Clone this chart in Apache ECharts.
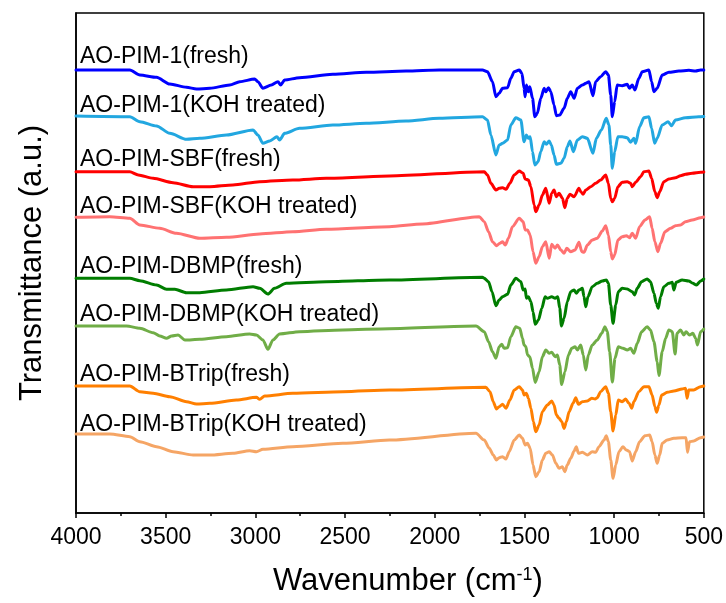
<!DOCTYPE html>
<html>
<head>
<meta charset="utf-8">
<script src="https://cdn.jsdelivr.net/npm/echarts@6/dist/echarts.min.js"></script>
<style>
html,body{margin:0;padding:0;background:#fff;}
#chart{width:726px;height:603px;}
</style>
</head>
<body>
<div id="chart"></div>
<script>
// Series names (labels drawn above each spectrum)
const seriesNames = [
  'AO-PIM-1(fresh)',
  'AO-PIM-1(KOH treated)',
  'AO-PIM-SBF(fresh)',
  'AO-PIM-SBF(KOH treated)',
  'AO-PIM-DBMP(fresh)',
  'AO-PIM-DBMP(KOH treated)',
  'AO-PIM-BTrip(fresh)',
  'AO-PIM-BTrip(KOH treated)'
];

// x-axis tick values (wavenumber, cm-1)
const xTicks = [4000, 3500, 3000, 2500, 2000, 1500, 1000, 500];

// Spectra: [wavenumber, transmittance (a.u., vertically offset)]
const pim1Fresh = [[4000,441],[3700,441],[3644,436],[3551,433.7],[3477,427],[3384,423.7],[3328,422],[3254,422.7],[3143,426],[3087,429.3],[3004,432],[2986,429.3],[2958,422.7],[2911,426],[2874,429.3],[2859,426],[2837,431],[2754,433.3],[2568,436.7],[2382,438.7],[2160,440],[1975,441],[1734,441],[1706,439.3],[1678,429.3],[1659,414.3],[1641,417.7],[1622,422.7],[1594,423.3],[1576,432.7],[1557,439.3],[1529,441],[1514,437.7],[1502,422.7],[1496,414.3],[1489,426],[1478,419.3],[1470,424.3],[1455,412.7],[1442,394.3],[1428,397.7],[1409,412.7],[1390,422.7],[1381,419.3],[1366,423.3],[1353,419.3],[1335,406],[1322,395.3],[1303,396],[1279,402.7],[1261,412.7],[1242,419.3],[1223,412.7],[1205,422.7],[1177,426],[1158,427.7],[1140,429.3],[1118,415.3],[1103,429.3],[1075,434.3],[1047,439.3],[1032,436],[1019,416],[1010,394.3],[997,409.3],[983,426],[955,425.3],[927,426.7],[914,422.7],[899,426],[884,421],[862,432.7],[843,439.3],[806,441],[791,429.3],[778,419.3],[760,422.7],[732,436],[695,438.7],[639,440],[583,440.7],[546,440],[518,441],[500,441]];

const pim1Koh = [[4000,395],[3700,394.3],[3644,389.3],[3551,385],[3477,377.7],[3384,371.7],[3310,372.7],[3161,376],[3013,381],[2986,376],[2958,367.7],[2920,370],[2880,374.3],[2865,371],[2837,377.7],[2754,382.7],[2568,386],[2382,387.7],[2160,390],[1975,392.7],[1734,394.3],[1706,391],[1687,376],[1659,356],[1641,366],[1622,367.7],[1594,371],[1576,386],[1548,393.3],[1520,391],[1502,369.3],[1489,376],[1478,372.7],[1468,374.3],[1455,359.3],[1442,346],[1424,349.3],[1409,359.3],[1390,369.3],[1378,366.7],[1362,370],[1350,366],[1335,356],[1322,346.7],[1297,347.7],[1279,352.7],[1261,364.3],[1246,370],[1227,359.3],[1205,371],[1177,374.3],[1149,372.7],[1118,357.7],[1099,372.7],[1071,381],[1044,392.7],[1029,386],[1019,366],[1010,342.7],[997,359.3],[979,374.3],[955,374.3],[927,373.3],[908,368.7],[890,372.7],[880,367.7],[858,384.3],[834,393.3],[806,394.3],[791,382.7],[774,367.7],[760,372.7],[732,386],[699,389.3],[680,385.3],[658,391],[602,393.3],[528,394.3],[500,394.5]];

const sbfFresh = [[4000,339.3],[3700,339.3],[3653,336],[3570,332.7],[3459,328.3],[3347,324.3],[3254,324.3],[3125,326],[2976,329.3],[2791,331],[2605,332.7],[2253,335],[1724,339.3],[1706,336],[1687,327.7],[1659,321],[1641,322.7],[1622,323.3],[1603,321.7],[1581,327.7],[1557,336],[1529,340],[1507,337.7],[1496,332],[1478,331],[1464,324.3],[1446,306],[1437,299.3],[1418,306],[1400,316],[1381,322.7],[1362,307.7],[1348,317.7],[1335,321],[1322,314.3],[1307,317.7],[1288,312.7],[1275,303.3],[1261,312.7],[1246,316.7],[1223,314.3],[1196,322.7],[1186,319.3],[1173,316.7],[1158,321],[1130,324.3],[1103,327.7],[1075,331],[1047,336],[1032,327.7],[1019,312.7],[1010,309.3],[997,312.7],[979,324.3],[955,328.7],[927,329.3],[908,327.7],[899,324.3],[880,328.7],[852,334.3],[834,339.3],[806,340],[791,332.7],[773,319.3],[760,313.3],[746,319.3],[723,329.3],[695,332],[658,333.3],[630,335.3],[602,336.7],[565,337.7],[518,338.7],[500,339]];

const sbfKoh = [[4000,293.7],[3811,294.3],[3700,292.7],[3644,286],[3533,282.7],[3440,277.7],[3310,272.7],[3161,273.7],[2976,277],[2791,279.3],[2605,281.7],[2253,284.3],[2068,287],[1752,294.3],[1724,289.3],[1700,279.3],[1678,269.3],[1656,265.3],[1637,267.7],[1622,269.3],[1607,266],[1589,272.7],[1567,284.3],[1529,292.7],[1507,289.3],[1496,281],[1483,281],[1468,276],[1452,259.3],[1437,247.7],[1418,254.3],[1400,264.3],[1381,269.3],[1362,252.7],[1348,266.7],[1329,262.7],[1316,266],[1297,261],[1279,257.7],[1264,262.7],[1242,259.3],[1218,261],[1196,268.7],[1180,259.3],[1168,258.7],[1149,266],[1122,271],[1094,272.7],[1066,280],[1047,285.3],[1032,276],[1019,259.3],[1010,252],[997,256],[979,271],[955,274.3],[932,275.3],[914,273.3],[899,277.7],[880,272.7],[858,284.3],[828,291],[802,294.3],[788,282.7],[773,269.3],[756,259.3],[741,267.7],[717,279.3],[685,282.7],[658,285.3],[630,286],[602,289.3],[565,291],[518,293.3],[500,294]];

const dbmpFresh = [[4000,232.7],[3700,232.7],[3644,230.3],[3551,226],[3495,221.7],[3449,221.7],[3384,218.3],[3310,218.3],[3161,221],[3013,224.3],[2976,222.7],[2930,217],[2893,222.7],[2828,227.7],[2605,229.3],[2253,231],[1734,233.7],[1724,232.7],[1700,229.3],[1681,219.3],[1659,205.3],[1641,211],[1622,214.3],[1594,216.7],[1576,226],[1548,232.7],[1520,229.3],[1507,221],[1496,222],[1489,212.7],[1478,214.3],[1464,209.3],[1452,199.3],[1440,186.7],[1422,191],[1403,202.7],[1385,214.3],[1372,212.7],[1348,214.3],[1329,212.7],[1314,214.3],[1303,202.7],[1294,185],[1279,192.7],[1261,209.3],[1242,219.3],[1223,221],[1211,217.7],[1196,221],[1177,222.7],[1168,214.3],[1158,204.3],[1146,214.3],[1122,224.3],[1094,227.7],[1066,230],[1044,231],[1032,227.7],[1019,206],[1006,187.7],[991,206],[977,219.3],[955,222.7],[927,222],[899,219.3],[886,216],[871,222.7],[847,229.3],[816,232],[797,229.3],[778,217.7],[765,207.7],[754,202.7],[741,214.3],[723,224.3],[695,227.7],[676,228.7],[667,221],[654,228.7],[621,231],[584,230],[561,227.7],[541,226],[518,230],[500,232]];

const dbmpKoh = [[4000,185],[3718,185],[3644,182.7],[3570,178.3],[3533,175],[3495,172.7],[3467,175],[3431,176],[3393,171],[3310,171.7],[3161,174.3],[3032,177],[2994,176],[2958,171],[2930,161.7],[2902,171],[2865,177],[2754,179.3],[2513,181],[2253,182.3],[1770,185],[1724,179.3],[1700,169.3],[1678,159.3],[1659,152.7],[1641,164.3],[1626,166.7],[1613,162.7],[1594,163.3],[1576,174.3],[1548,184.3],[1526,182.7],[1511,172.7],[1502,166],[1492,164.3],[1483,156],[1470,154.3],[1455,142.7],[1440,128.5],[1418,139.3],[1400,154.3],[1381,161],[1362,157.7],[1348,158.7],[1329,154.3],[1316,156],[1303,146],[1293,126.5],[1274,139.3],[1255,156],[1236,162.7],[1218,164.3],[1205,161],[1186,166],[1172,156],[1158,141],[1144,156],[1122,166],[1094,171],[1069,177.7],[1051,184.3],[1038,179.3],[1025,159.3],[1010,129],[995,152.7],[977,164.3],[951,162.7],[927,161],[908,162.7],[890,157.7],[871,167.7],[847,179.3],[816,184.3],[797,181],[778,169.3],[760,149.3],[750,135.5],[732,159.3],[713,172.7],[695,181],[676,179.3],[660,157],[649,177.7],[630,181],[611,176],[599,179.3],[580,176],[561,177.7],[546,172.7],[535,166],[518,179.3],[500,182]];

const btripFresh = [[4000,125],[3700,125],[3644,119.3],[3570,117.7],[3477,114.3],[3384,109.3],[3328,107],[3254,107.7],[3106,111],[2994,113.7],[2976,111.7],[2948,115],[2791,117.7],[2513,119.3],[2253,121],[1715,123.7],[1692,119.3],[1674,109.3],[1656,102],[1641,104.3],[1622,106.7],[1603,102.7],[1581,111],[1557,121],[1529,124.3],[1511,121],[1502,116],[1489,117.7],[1478,112.7],[1464,102.7],[1450,89.3],[1437,79.3],[1418,86],[1400,99.3],[1372,106],[1348,110],[1335,106],[1322,96],[1307,92.7],[1292,89.3],[1279,82.7],[1266,89.3],[1251,99.3],[1229,107.7],[1214,113.3],[1199,106.7],[1177,109.3],[1149,110],[1125,112.7],[1106,112],[1094,113.3],[1075,119.3],[1047,124.3],[1032,117.7],[1019,99.3],[1006,80],[991,96],[977,111],[955,109.3],[936,112],[917,107.7],[902,102.7],[890,109.3],[862,119.3],[834,124.3],[806,124.3],[788,116],[773,104.3],[763,98.7],[750,106],[735,116],[704,118.7],[667,120],[621,122],[602,122.7],[593,112.7],[584,121],[556,121],[518,124.3],[500,125]];

const btripKoh = [[4000,77],[3811,77],[3700,74.3],[3644,69.3],[3551,64.3],[3459,59.3],[3347,56],[3254,56],[3125,57.7],[3032,60.3],[2994,59.3],[2958,61.7],[2791,64.3],[2513,67.7],[2253,71],[1770,77.7],[1724,71],[1696,62.7],[1674,56],[1656,51],[1641,53.3],[1622,54.3],[1603,52],[1585,59.3],[1557,71],[1529,76],[1511,72.7],[1496,66],[1483,67.7],[1468,62.7],[1452,46],[1437,34.3],[1418,39.3],[1400,51],[1381,57.7],[1362,59.3],[1344,56],[1325,47.7],[1307,42.7],[1288,44.3],[1275,39.3],[1261,46],[1242,52.7],[1223,60],[1211,64.3],[1199,57.7],[1177,58.7],[1149,56],[1122,59.3],[1103,58.7],[1084,64.3],[1056,71],[1044,75.3],[1032,69.3],[1019,51],[1006,32.7],[991,46],[973,59.3],[951,64.3],[932,61],[914,59.3],[899,50],[880,59.3],[858,69.3],[828,75.3],[802,76],[788,69.3],[773,56],[760,47.7],[746,56],[732,67.7],[704,71],[667,72.7],[621,73.3],[599,73.3],[591,58.7],[580,69.3],[556,70],[518,73.3],[500,74]];

const spectra = [pim1Fresh, pim1Koh, sbfFresh, sbfKoh, dbmpFresh, dbmpKoh, btripFresh, btripKoh];
const colors = ['#0000FF', '#22A7E0', '#FF0000', '#FF7272', '#007D00', '#70AD47', '#FF7F00', '#F5A565'];
// label vertical centers (px)
const labelY = [57, 106, 160, 207, 267, 315, 375, 425];

const FONT = 'Liberation Sans, Arial, sans-serif';
const chart = echarts.init(document.getElementById('chart'), null, {renderer: 'canvas'});

const option = {
  animation: false,
  backgroundColor: '#fff',
  grid: {left: 76, right: 22, top: 13, bottom: 90, show: true, borderColor: '#000', borderWidth: 1.5},
  xAxis: {
    type: 'value',
    inverse: true,
    min: 500, max: 4000, interval: 500,
    splitLine: {show: false},
    axisLine: {show: true, onZero: false, lineStyle: {color: '#000', width: 1.5}},
    axisTick: {show: true, inside: false, length: 5, lineStyle: {color: '#000', width: 1.5}},
    minorTick: {show: true, splitNumber: 2, length: 3, lineStyle: {color: '#000', width: 1.5}},
    axisLabel: {
      color: '#000', fontSize: 23, fontFamily: FONT, margin: 13,
      formatter: v => xTicks.includes(v) ? String(v) : ''
    },
    name: 'Wavenumber (cm{sup|-1})',
    nameLocation: 'middle',
    nameGap: 53,
    nameTextStyle: {
      color: '#000', fontSize: 31, fontFamily: FONT, padding: [0, 0, 0, 36],
      rich: {sup: {fontSize: 18, fontFamily: FONT, color: '#000', verticalAlign: 'top', padding: [0, 0, 12, 0]}}
    }
  },
  yAxis: {
    type: 'value',
    min: -2, max: 498,
    splitLine: {show: false},
    axisLine: {show: true, onZero: false, lineStyle: {color: '#000', width: 1.5}},
    axisTick: {show: false},
    axisLabel: {show: false},
    name: 'Transmittance (a.u.)',
    nameLocation: 'middle',
    nameGap: 28,
    nameTextStyle: {color: '#000', fontSize: 31, fontFamily: FONT}
  },
  series: spectra.map((d, i) => ({
    type: 'line',
    name: seriesNames[i],
    data: d,
    showSymbol: false,
    symbol: 'none',
    smooth: 0.25,
    smoothMonotone: 'x',
    lineStyle: {color: colors[i], width: 3, join: 'round', cap: 'round'},
    itemStyle: {color: colors[i]},
    z: 2
  })),
  graphic: seriesNames.map((n, i) => ({
    type: 'text',
    x: 80,
    y: labelY[i],
    z: 10,
    style: {text: n, fill: '#000', font: '23px ' + FONT, fontSize: 23, fontFamily: FONT, verticalAlign: 'middle', textVerticalAlign: 'middle'}
  }))
};
chart.setOption(option);
</script>
</body>
</html>
